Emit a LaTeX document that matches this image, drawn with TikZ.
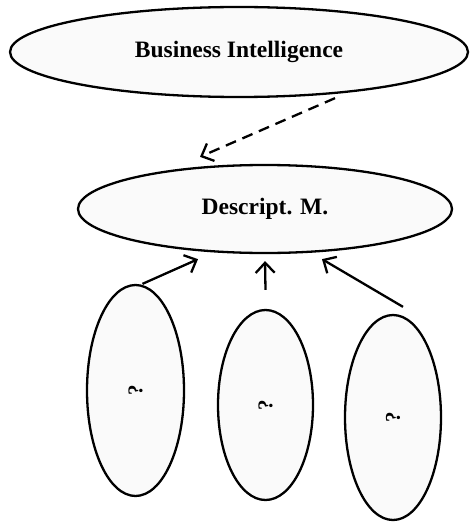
\documentclass[tikz,border=0pt]{standalone}
\usepackage{fontspec}
\setmainfont{Liberation Serif}
\usetikzlibrary{shapes.geometric,arrows.meta,calc}
\definecolor{ellfill}{HTML}{FAFAFA}
\tikzset{
  ell/.style={draw=black, line width=2.3pt, fill=ellfill, ellipse, inner sep=0pt},
  lbl/.style={font=\bfseries\fontsize{23.5}{26}\selectfont},
  qm/.style={font=\bfseries\fontsize{21}{24}\selectfont, rotate=90},
  conn/.style={line width=2.3pt, -{Straight Barb[length=10pt,width=19pt,line width=2.3pt]}},
}
\begin{document}
\begin{tikzpicture}[x=1pt,y=-1pt]
\useasboundingbox (0,0) rectangle (471,524);
\node[ell, minimum width=458pt, minimum height=90pt] (bi) at (239,52) {};
\node[lbl] (bit) at (bi.center) {Business Intelligence};
\node[ell, minimum width=374pt, minimum height=88pt] (dm) at (265,209) {};
\node[lbl] (dmt) at (dm.center) {Descript. M.};
\node[ell, minimum width=97pt, minimum height=211pt] (q1) at (135.5,390.5) {};
\node[qm] at (q1.center) {?};
\node[ell, minimum width=95pt, minimum height=190pt] (q2) at (265.5,405) {};
\node[qm] at (q2.center) {?};
\node[ell, minimum width=96pt, minimum height=205pt] (q3) at (393,417.5) {};
\node[qm] at (q3.center) {?};
% connectors
\draw[conn, dash pattern=on 11pt off 7pt] ($(bi.south)+(96,0)$) -- ($(dm.north)+(-65,-7)$);
\draw[conn] ($(q1.north)+(7,0)$) -- ($(dm.south)+(-67,5)$);
\draw[conn] ($(q2.north)+(0,-19)$) -- ($(dm.south)+(0,7)$);
\draw[conn] ($(q3.north)+(10,-7)$) -- ($(dm.south)+(57,5)$);
\end{tikzpicture}
\end{document}
